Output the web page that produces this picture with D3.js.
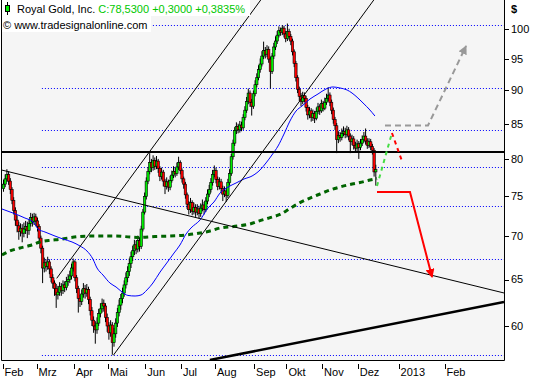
<!DOCTYPE html>
<html><head><meta charset="utf-8">
<script src="https://cdn.jsdelivr.net/npm/d3@7/dist/d3.min.js"></script>
<style>html,body{margin:0;padding:0;background:#fff;}svg{display:block;}</style>
</head><body>
<svg id="chart" width="534" height="380"></svg>
<script>
// ---------- DATA ----------
const openV=[76.0,76.6,77.3,77.9,77.0,75.9,74.5,73.2,72.0,71.3,
70.6,71.0,70.4,70.9,71.2,70.7,71.6,72.3,71.8,72.4,
71.9,71.2,69.8,68.6,66.3,66.9,66.5,67.0,66.2,65.2,
64.6,64.0,63.3,63.6,64.2,63.8,64.4,64.1,64.8,65.0,
65.4,66.3,67.0,65.2,64.0,62.9,62.6,63.4,64.0,63.5,
63.9,62.8,61.6,60.6,60.0,59.6,60.3,61.3,61.8,62.4,
62.1,60.9,60.0,59.3,60.1,58.3,59.2,60.3,61.4,62.2,
62.9,63.5,64.4,65.2,65.9,66.8,67.6,68.3,69.0,68.5,
69.5,68.8,70.9,73.0,75.0,77.0,78.3,79.5,78.8,79.8,
79.0,79.7,78.7,77.6,78.2,77.0,76.3,76.9,76.2,77.1,
77.8,78.3,78.0,78.9,79.5,78.4,77.3,76.6,75.2,74.0,
73.3,74.2,73.1,73.6,73.0,73.4,72.8,73.5,73.9,73.3,
74.4,75.3,75.9,76.8,77.9,78.4,77.2,76.3,76.9,76.0,
75.3,75.7,75.1,76.8,78.0,80.3,82.2,84.0,84.6,84.1,
84.8,84.4,85.9,87.0,88.3,89.6,88.2,87.6,89.5,90.9,
92.0,93.3,94.2,95.5,96.4,95.8,96.6,95.0,93.0,95.5,
97.0,98.0,99.0,99.8,99.5,100.2,99.2,98.4,99.6,98.8,
98.0,96.2,94.3,92.0,90.2,89.1,88.3,89.2,88.8,87.4,
86.3,86.9,85.9,86.5,85.8,86.8,87.5,86.9,88.0,87.3,
88.2,88.8,89.3,88.2,87.0,85.6,84.7,82.7,83.3,83.0,
83.6,83.9,83.4,84.1,83.2,82.4,82.8,81.9,81.5,82.1,
81.6,82.2,82.7,83.2,82.5,81.9,82.4,81.7,81.2,78.23];
const highV=[77.2,77.9,78.6,78.3,77.4,76.2,74.9,73.6,72.6,71.8,
71.6,71.5,71.7,71.9,71.8,72.1,72.9,72.8,72.9,72.8,
72.3,71.5,70.1,68.9,67.5,67.3,67.6,67.3,66.5,65.6,
64.9,64.5,64.3,64.7,64.6,64.9,64.8,65.3,65.6,66.0,
66.8,67.4,67.2,65.5,64.3,63.3,63.9,64.6,64.4,64.5,
64.2,63.1,62.0,61.0,60.5,60.9,61.8,62.4,62.9,62.8,
62.4,61.3,60.4,60.6,60.4,59.8,60.8,61.9,62.8,63.4,
64.1,64.9,65.8,66.5,67.4,68.2,68.9,69.6,69.5,70.1,
69.9,71.3,73.4,75.5,77.5,78.9,80.8,80.0,80.5,80.2,
80.4,80.0,79.0,78.8,78.5,77.3,77.5,77.2,77.7,78.4,
79.0,78.8,79.5,80.3,79.8,78.7,77.6,76.9,75.5,74.4,
74.8,74.5,74.2,74.0,74.0,73.8,74.1,74.6,74.3,74.9,
75.9,76.5,77.4,78.5,79.1,78.8,77.6,77.5,77.3,76.4,
76.3,76.1,77.3,78.6,80.7,82.7,84.5,85.2,85.0,85.4,
85.3,86.4,87.6,89.0,90.3,90.0,88.7,90.0,91.6,92.7,
94.0,95.1,96.3,97.9,97.0,97.3,97.1,95.4,96.0,97.7,
98.8,99.7,100.5,100.3,100.7,100.6,99.7,101.0,100.1,99.2,
98.4,96.6,94.7,92.4,90.6,89.6,89.8,89.7,89.2,87.8,
87.5,87.3,87.1,86.9,87.4,88.1,87.9,88.6,88.4,88.9,
89.5,90.5,89.7,88.6,87.4,86.0,85.1,83.9,83.8,84.3,
84.6,84.4,84.7,84.5,83.6,83.4,83.2,82.4,82.7,82.5,
82.8,83.3,83.8,84.3,82.9,82.9,82.8,82.1,81.5,79.2];
const lowV=[75.6,76.2,76.9,76.5,75.3,74.0,72.7,71.3,70.5,69.6,
70.0,69.3,69.9,70.3,69.8,70.2,71.2,71.2,71.4,71.3,
70.6,69.3,68.0,64.6,65.8,65.9,66.1,65.6,64.7,64.0,
63.2,61.9,62.8,63.2,63.2,63.4,63.6,63.8,64.3,64.6,
65.0,65.9,64.8,63.5,61.4,62.0,62.2,63.0,62.9,63.1,
62.3,61.1,60.0,59.3,58.2,59.2,60.0,60.9,61.4,61.5,
60.4,59.4,58.6,58.9,57.1,57.9,58.8,59.9,61.0,61.7,
62.4,63.1,64.0,64.7,65.4,66.3,67.1,67.8,67.9,68.1,
68.2,68.5,70.6,72.7,74.6,76.6,77.9,78.2,78.4,78.5,
78.6,78.1,77.0,77.2,76.3,75.3,75.9,75.6,75.8,76.8,
77.4,77.5,77.7,78.5,77.9,76.8,76.0,74.7,73.4,72.7,
72.9,72.6,72.7,72.4,72.6,72.2,72.4,73.1,72.7,73.0,
74.0,74.9,75.5,76.4,77.5,76.7,75.8,75.9,75.5,74.4,
74.9,74.3,74.8,76.4,77.7,79.9,81.8,83.5,83.6,83.7,
83.9,84.1,85.5,86.6,87.9,87.5,86.2,87.2,89.1,90.5,
91.6,92.8,93.8,95.0,95.1,95.3,94.4,90.3,92.6,95.0,
96.5,97.5,98.6,98.9,99.0,98.6,97.8,98.0,98.2,97.3,
95.6,93.7,91.4,89.6,88.4,87.6,87.9,88.2,86.8,85.6,
85.8,85.3,85.4,85.1,85.5,86.4,86.3,86.6,86.8,87.0,
87.8,88.4,87.6,86.4,85.0,84.1,80.8,82.2,82.4,82.6,
83.2,82.9,83.0,82.6,80.8,81.9,81.3,80.9,81.1,80.0,
81.2,81.8,82.3,82.0,81.4,81.5,81.2,80.6,77.6,76.4];
const closeV=[76.6,77.3,77.9,77.0,75.9,74.5,73.2,72.0,71.3,70.6,
71.0,70.4,70.9,71.2,70.7,71.6,72.3,71.8,72.4,71.9,
71.2,69.8,68.6,66.3,66.9,66.5,67.0,66.2,65.2,64.6,
64.0,63.3,63.6,64.2,63.8,64.4,64.1,64.8,65.0,65.4,
66.3,67.0,65.2,64.0,62.9,62.6,63.4,64.0,63.5,63.9,
62.8,61.6,60.6,60.0,59.6,60.3,61.3,61.8,62.4,62.1,
60.9,60.0,59.3,60.1,58.3,59.2,60.3,61.4,62.2,62.9,
63.5,64.4,65.2,65.9,66.8,67.6,68.3,69.0,68.5,69.5,
68.8,70.9,73.0,75.0,77.0,78.3,79.5,78.8,79.8,79.0,
79.7,78.7,77.6,78.2,77.0,76.3,76.9,76.2,77.1,77.8,
78.3,78.0,78.9,79.5,78.4,77.3,76.6,75.2,74.0,73.3,
74.2,73.1,73.6,73.0,73.4,72.8,73.5,73.9,73.3,74.4,
75.3,75.9,76.8,77.9,78.4,77.2,76.3,76.9,76.0,75.3,
75.7,75.1,76.8,78.0,80.3,82.2,84.0,84.6,84.1,84.8,
84.4,85.9,87.0,88.3,89.6,88.2,87.6,89.5,90.9,92.0,
93.3,94.2,95.5,96.4,95.8,96.6,95.0,93.0,95.5,97.0,
98.0,99.0,99.8,99.5,100.2,99.2,98.4,99.6,98.8,98.0,
96.2,94.3,92.0,90.2,89.1,88.3,89.2,88.8,87.4,86.3,
86.9,85.9,86.5,85.8,86.8,87.5,86.9,88.0,87.3,88.2,
88.8,89.3,88.2,87.0,85.6,84.7,82.7,83.3,83.0,83.6,
83.9,83.4,84.1,83.2,82.4,82.8,81.9,81.5,82.1,81.6,
82.2,82.7,83.2,82.5,81.9,82.4,81.7,81.2,78.23,78.53];

// month ticks (bar index) and labels
const monthTickIdx=[0,20,42,62,84,105,125,148,167,188,209,233,260];
const monthLabels=["Feb","Mrz","Apr","Mai","Jun","Jul","Aug","Sep","Okt","Nov","Dez","2013","Feb"];
const priceTicks=[60,65,70,75,80,85,90,95,100];

// Fibonacci retracement levels (dotted blue)
const fibLevels=[100.74,90.43,84.05,78.9,73.74,67.36,57.05];
const fibStartIdx=22.6;

// moving average (thin blue)
const smaIdx=[-0.9,5.6,12.6,17.4,20.3,24.4,30.3,35,40.3,45,
49.1,52.6,55,58.5,62.6,66.2,69.7,73.2,77.4,80.9,
84.4,87.9,92.1,95.6,100.3,103.8,107.4,110.3,115.6,120.3,
123.8,127.4,132.1,136.8,141.5,146.2,150.9,154.4,157.9,161.5,
165,168.5,172.1,175.6,180.3,185,189.7,193.8,197.9,202.1,
205,208.5,212.1,215,218.5];
const smaVal=[73.39,72.88,72.26,71.76,70.91,70.54,70.05,69.69,69.34,68.86,
68.27,67.33,66.30,65.51,64.61,64.17,63.62,63.24,63.18,63.29,
63.84,64.61,65.84,66.76,68.03,68.98,70.30,71.03,72.01,73.52,
74.28,75.44,76.22,76.75,77.28,77.68,78.49,79.44,80.54,81.80,
83.50,85.39,86.88,87.63,88.69,89.46,90.23,90.55,90.39,90.08,
89.61,88.84,87.93,87.18,86.13];

// long moving average (dark green dashed)
const ma200Idx=[-0.9,3.8,9.7,15.6,21.5,27.4,33.2,39.1,45,50.9,
56.8,65.6,74.4,80.3,89.1,97.9,106.8,115.6,121.5,127.4,
136.2,145,150.9,156.8,162.6,168.5,174.4,180.3,186.2,192.1,
197.9,203.8,209.7,215.6,219.7];
const ma200Val=[67.80,68.27,68.62,68.92,69.34,69.54,69.66,69.85,70.00,70.05,
70.05,70.05,69.94,69.88,70.00,70.05,70.17,70.42,70.66,71.03,
71.23,71.52,71.93,72.30,72.70,73.45,74.19,74.79,75.31,75.83,
76.22,76.55,76.81,77.14,77.34];

// drawn trend lines [index, price]
const resistanceLevel=81.0;
const channelUpper=[[31.3,65.13],[151.3,105.17]];
const channelLower=[[64.6,57.05],[217.8,105.17]];
const downTrend=[[-1.2,78.49],[294.4,63.51]];
const supportTrend=[[121.4,56.59],[294.4,62.53]];

// projections
const projGreen=[[219.7,76.35],[228.5,83.65]];
const projRedDash=[[228.5,83.65],[234.4,79.71]];
const projGray=[[224.4,84.74],[249.7,84.74],[272.1,97.17]];
const projRed=[[219.7,75.57],[239.1,75.57],[252.1,65.28]];

// ---------- CHART ----------
const svg=d3.select("#chart");
const plot={left:2,right:504,top:0,bottom:360};
const x=d3.scaleLinear().domain([0,100]).range([3.5,173.5]);
const y=d3.scaleLog().domain([60,100]).range([326,29.3]);

svg.append("rect").attr("x",plot.left).attr("y",plot.top)
  .attr("width",plot.right-plot.left).attr("height",plot.bottom-plot.top).attr("fill","#f5f5f5");

const defs=svg.append("defs");
defs.append("clipPath").attr("id","clip").append("rect")
  .attr("x",plot.left).attr("y",plot.top).attr("width",plot.right-plot.left).attr("height",plot.bottom-plot.top);
function marker(id,color){
  defs.append("marker").attr("id",id).attr("viewBox","0 0 10 10").attr("refX",9).attr("refY",5)
    .attr("markerWidth",9).attr("markerHeight",9).attr("markerUnits","userSpaceOnUse").attr("orient","auto")
    .append("path").attr("d","M0,0L10,5L0,10z").attr("fill",color);
}
marker("arRed","#ff0000");marker("arGray","#999999");

const g=svg.append("g").attr("clip-path","url(#clip)");
const line=d3.line().x(d=>x(d[0])).y(d=>y(d[1]));

// fib dotted lines
g.selectAll(".fib").data(fibLevels).join("line")
  .attr("x1",x(fibStartIdx)).attr("x2",plot.right)
  .attr("y1",d=>Math.round(y(d))+0.5).attr("y2",d=>Math.round(y(d))+0.5)
  .attr("stroke","#0000ff").attr("stroke-width",1).attr("stroke-dasharray","1,2");

// candles
const bars=closeV.map((c,i)=>({i,o:openV[i],h:highV[i],l:lowV[i],c}));
const cg=g.append("g");
cg.selectAll(".wick").data(bars).join("line")
  .attr("x1",d=>x(d.i)).attr("x2",d=>x(d.i)).attr("y1",d=>y(d.h)).attr("y2",d=>y(d.l))
  .attr("stroke","#000").attr("stroke-width",1);
cg.selectAll(".body").data(bars).join("rect")
  .attr("x",d=>x(d.i)-1.2).attr("width",2.4)
  .attr("y",d=>y(Math.max(d.o,d.c))).attr("height",d=>Math.max(0.8,Math.abs(y(d.o)-y(d.c))))
  .attr("fill",d=>d.c>=d.o?"#00ee00":"#ff0000").attr("stroke","#000").attr("stroke-width",0.6);

// moving averages
g.append("path").datum(ma200Idx.map((v,k)=>[v,ma200Val[k]])).attr("d",line.curve(d3.curveMonotoneX))
  .attr("fill","none").attr("stroke","#006400").attr("stroke-width",3).attr("stroke-dasharray","5,4");
g.append("path").datum(smaIdx.map((v,k)=>[v,smaVal[k]])).attr("d",line.curve(d3.curveMonotoneX))
  .attr("fill","none").attr("stroke","#0000ff").attr("stroke-width",1);
line.curve(d3.curveLinear);

// trend lines
[[channelUpper,1],[channelLower,1],[downTrend,1],[supportTrend,2.5]].forEach(([pts,w])=>{
  g.append("path").datum(pts).attr("d",line).attr("fill","none").attr("stroke","#000").attr("stroke-width",w);
});
g.append("line").attr("x1",plot.left).attr("x2",plot.right)
  .attr("y1",Math.round(y(resistanceLevel))).attr("y2",Math.round(y(resistanceLevel))).attr("stroke","#000").attr("stroke-width",2);

// projections
g.append("path").datum(projGreen).attr("d",line).attr("fill","none").attr("stroke","#44dd44").attr("stroke-width",2).attr("stroke-dasharray","4,4");
g.append("path").datum(projRedDash).attr("d",line).attr("fill","none").attr("stroke","#ff0000").attr("stroke-width",2).attr("stroke-dasharray","4,4");
g.append("path").datum(projGray).attr("d",line).attr("fill","none").attr("stroke","#999999").attr("stroke-width",2).attr("stroke-dasharray","6,4").attr("marker-end","url(#arGray)");
g.append("path").datum(projRed).attr("d",line).attr("fill","none").attr("stroke","#ff0000").attr("stroke-width",2).attr("marker-end","url(#arRed)");

// borders
svg.append("path").attr("d",`M${plot.left-0.5},0V${plot.bottom+0.5}H${plot.right+0.5}V0`)
  .attr("fill","none").attr("stroke","#000").attr("stroke-width",1);

// y axis
const ya=svg.append("g");
ya.selectAll("line").data(priceTicks).join("line").attr("x1",505).attr("x2",509)
  .attr("y1",d=>Math.round(y(d))+0.5).attr("y2",d=>Math.round(y(d))+0.5).attr("stroke","#000");
ya.selectAll("text").data(priceTicks).join("text").attr("x",511).attr("y",d=>y(d)).attr("dy","0.35em")
  .attr("font-family","Liberation Sans, Arial, sans-serif").attr("font-size",11).attr("fill","#000").text(d=>d);
svg.append("text").attr("x",511).attr("y",13).attr("font-family","Liberation Sans, Arial, sans-serif")
  .attr("font-size",11).attr("font-weight","bold").text("$");

// x axis
const xa=svg.append("g");
xa.selectAll("line").data(monthTickIdx).join("line")
  .attr("x1",d=>Math.round(x(d))-0.5).attr("x2",d=>Math.round(x(d))-0.5).attr("y1",364).attr("y2",369).attr("stroke","#000");
xa.selectAll("text").data(monthTickIdx).join("text").attr("x",d=>x(d)+1).attr("y",376)
  .attr("font-family","Liberation Sans, Arial, sans-serif").attr("font-size",11).attr("fill","#000")
  .text((d,k)=>monthLabels[k]);

// header
svg.append("rect").attr("x",2).attr("y",0).attr("width",248).attr("height",16).attr("fill","#fff");
svg.append("rect").attr("x",2).attr("y",16).attr("width",149).attr("height",16).attr("fill","#fff");
svg.append("line").attr("x1",7.5).attr("x2",7.5).attr("y1",2).attr("y2",15).attr("stroke","#000");
svg.append("rect").attr("x",5.5).attr("y",5.5).attr("width",4).attr("height",6).attr("fill","#00ee00").attr("stroke","#000");
const t1=svg.append("text").attr("x",17).attr("y",13).attr("font-family","Liberation Sans, Arial, sans-serif").attr("font-size",11);
t1.append("tspan").attr("fill","#000").text("Royal Gold, Inc. ");
t1.append("tspan").attr("fill","#00c800").text("C:78,5300 +0,3000 +0,3835%");
svg.append("text").attr("x",3).attr("y",29).attr("font-family","Liberation Sans, Arial, sans-serif").attr("font-size",11)
  .attr("fill","#000").text("© www.tradesignalonline.com");
</script>
</body></html>
